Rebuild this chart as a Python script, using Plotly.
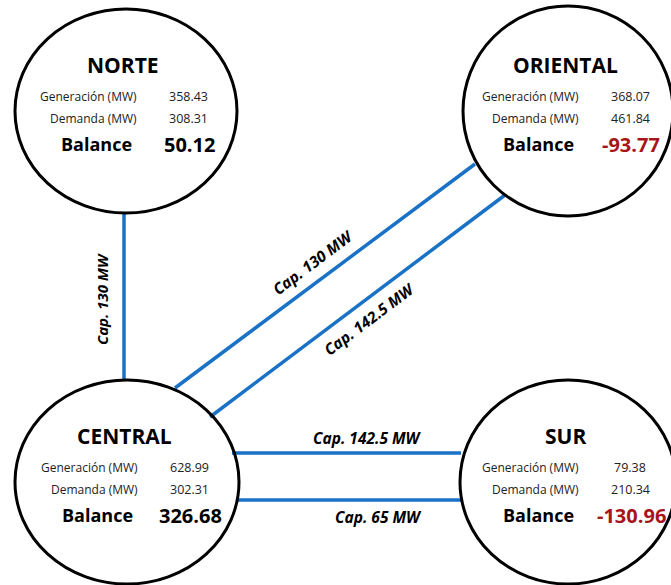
import plotly.graph_objects as go

# data
regiones = ["NORTE", "ORIENTAL", "CENTRAL", "SUR"]
generacion = ["358.43", "368.07", "628.99", "79.38"]
demanda = ["308.31", "461.84", "302.31", "210.34"]
balance = [50.12, -93.77, 326.68, -130.96]
capacidades = ["Cap. 130 MW", "Cap. 130 MW", "Cap. 142.5 MW", "Cap. 142.5 MW", "Cap. 65 MW"]

# geometry (pixel space, y down)
centros = {"NORTE": (126, 111), "ORIENTAL": (568, 111), "CENTRAL": (127, 482), "SUR": (568, 482)}
radios = {"NORTE": (111, 102), "ORIENTAL": (105, 105), "CENTRAL": (112, 102), "SUR": (108, 102)}
tramos = [
    ((124, 214), (124, 380)),
    ((175, 388), (475, 164)),
    ((210, 417), (505, 195)),
    ((232, 453), (461, 453)),
    ((236, 500), (461, 500)),
]
etiquetas = [  # x, y, angle, size
    (102, 299, -90, 15),
    (313, 262, -37, 15.5),
    (369, 319, -37, 15.5),
    (367, 438, 0, 15.5),
    (378, 517, 0, 15.5),
]

FONT = "Open Sans"
AZUL = "#1a72c6"
ROJO = "#a8141c"

fig = go.Figure()

for (p0, p1) in tramos:
    fig.add_trace(go.Scatter(x=[p0[0], p1[0]], y=[p0[1], p1[1]], mode="lines",
                             line=dict(color=AZUL, width=3.5), hoverinfo="skip", showlegend=False))

shapes = []
ann = []
for i, r in enumerate(regiones):
    cx, cy = centros[r]
    rx, ry = radios[r]
    shapes.append(dict(type="circle", xref="x", yref="y", x0=cx - rx, x1=cx + rx, y0=cy - ry, y1=cy + ry,
                       line=dict(color="black", width=3), fillcolor="rgba(0,0,0,0)", layer="above"))
    ann.append(dict(x=cx - 3, y=cy - 46, text="<b>%s</b>" % r, showarrow=False,
                    font=dict(family=FONT, size=21, color="black")))
    ann.append(dict(x=cx + 13, y=cy - 15, text="Generación (MW)", xanchor="right", showarrow=False,
                    font=dict(family=FONT, size=12, color="#222")))
    ann.append(dict(x=cx + 62, y=cy - 15, text=generacion[i], showarrow=False,
                    font=dict(family=FONT, size=12.5, color="#222")))
    ann.append(dict(x=cx + 13, y=cy + 7, text="Demanda (MW)", xanchor="right", showarrow=False,
                    font=dict(family=FONT, size=12, color="#222")))
    ann.append(dict(x=cx + 62, y=cy + 7, text=demanda[i], showarrow=False,
                    font=dict(family=FONT, size=12.5, color="#222")))
    ann.append(dict(x=cx - 30, y=cy + 33, text="<b>Balance</b>", showarrow=False,
                    font=dict(family=FONT, size=18, color="black")))
    ann.append(dict(x=cx + 63, y=cy + 33, text="<b>%.2f</b>" % balance[i], showarrow=False,
                    font=dict(family=FONT, size=20, color=ROJO if balance[i] < 0 else "black")))

for txt, (x, y, ang, sz) in zip(capacidades, etiquetas):
    ann.append(dict(x=x, y=y, text="<b><i>%s</i></b>" % txt, textangle=ang, showarrow=False,
                    font=dict(family=FONT, size=sz, color="black")))

fig.update_layout(
    width=671, height=585,
    margin=dict(l=0, r=0, t=0, b=0),
    paper_bgcolor="white", plot_bgcolor="white",
    xaxis=dict(range=[0, 671], visible=False, fixedrange=True),
    yaxis=dict(range=[585, 0], visible=False, fixedrange=True),
    shapes=shapes, annotations=ann,
)
fig.write_html("out.html", config={"displayModeBar": False},
               post_script="document.body.style.margin='0';")
